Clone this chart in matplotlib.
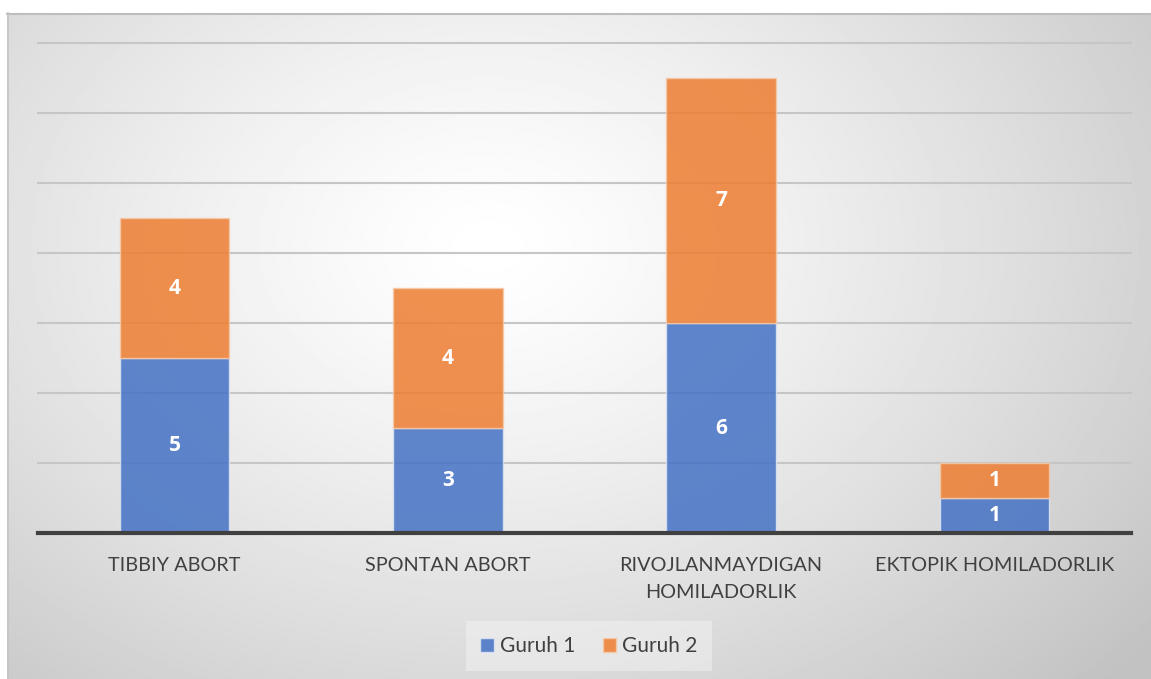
import numpy as np
import matplotlib.pyplot as plt

categories = ["TIBBIY ABORT", "SPONTAN ABORT", "RIVOJLANMAYDIGAN\nHOMILADORLIK", "EKTOPIK HOMILADORLIK"]
guruh1 = [5, 3, 6, 1]
guruh2 = [4, 4, 7, 1]
series_names = ["Guruh 1", "Guruh 2"]

blue = "#4472C4"
orange = "#ED7D31"
text_color = "#404040"

plt.rcParams['font.family'] = ['Lato', 'DejaVu Sans']

W, H = 1151, 679
fig = plt.figure(figsize=(W / 100, H / 100), dpi=100)
fig.patch.set_facecolor("white")

# chart area with radial gradient fill
bg = fig.add_axes([7 / W, 0, 1 - 7 / W, (H - 13) / H])
yy, xx = np.mgrid[0:1:400j, 0:1:700j]
r = np.sqrt(((xx - 0.42) / 0.75) ** 2 + ((yy - 0.65) / 0.95) ** 2)
r = np.clip(r, 0, 1)
shade = 1.0 - 0.24 * r ** 1.3
bg.imshow(shade, cmap="gray", vmin=0, vmax=1, aspect="auto", origin="lower",
          extent=[0, 1, 0, 1], interpolation="bilinear")
bg.set_xlim(0, 1)
bg.set_ylim(0, 1)
bg.axis("off")
# soft top / left border of the chart area
bg.plot([0, 1], [0.999, 0.999], color="#bdbdbd", lw=1.5, transform=bg.transAxes, clip_on=False)
bg.plot([0.0008, 0.0008], [0, 1], color="#c4c4c4", lw=1.2, transform=bg.transAxes, clip_on=False)

ax = fig.add_axes([38 / W, (H - 533) / H, (1131 - 38) / W, (533 - 43) / H])
ax.patch.set_alpha(0)
x = np.arange(len(categories))
width = 0.4

b1 = ax.bar(x, guruh1, width, color=blue, alpha=0.85, edgecolor="#dfe6f3", linewidth=1, label=series_names[0], zorder=3)
b2 = ax.bar(x, guruh2, width, bottom=guruh1, color=orange, alpha=0.85, edgecolor="#f5c9a8", linewidth=1, label=series_names[1], zorder=3)

for i in range(len(categories)):
    ax.text(x[i], guruh1[i] / 2, str(guruh1[i]), ha="center", va="center", color="white",
            fontsize=15, fontweight="bold", family=["Open Sans", "DejaVu Sans"], zorder=4)
    ax.text(x[i], guruh1[i] + guruh2[i] / 2, str(guruh2[i]), ha="center", va="center", color="white",
            fontsize=15, fontweight="bold", family=["Open Sans", "DejaVu Sans"], zorder=4)

ax.set_xlim(-0.5, len(categories) - 0.5)
ax.set_ylim(0, 14)
for yv in range(2, 15, 2):
    ax.axhline(yv, color="#c6c6c6", lw=1.5, zorder=1, clip_on=False)
ax.axhline(0, color="#404040", lw=3, zorder=5, clip_on=False)

ax.set_yticks([])
ax.set_xticks(x)
ax.set_xticklabels(categories, fontsize=14.3, color=text_color, linespacing=1.75, va="top")
ax.tick_params(axis="x", length=0, pad=17)
for s in ax.spines.values():
    s.set_visible(False)

leg = fig.legend(handles=[b1, b2], loc="center", bbox_to_anchor=(589 / W, 1 - 646 / H), ncol=2,
                 frameon=True, fontsize=15, handlelength=0.65, handleheight=0.65, handletextpad=0.3,
                 columnspacing=1.3, borderpad=0.7, borderaxespad=0)
leg.get_frame().set_facecolor("#f6f6f6")
leg.get_frame().set_edgecolor("none")
leg.get_frame().set_alpha(0.45)
leg.get_frame().set_boxstyle("square", pad=0)
for t in leg.get_texts():
    t.set_color(text_color)

fig.savefig("out.png", dpi=100)
